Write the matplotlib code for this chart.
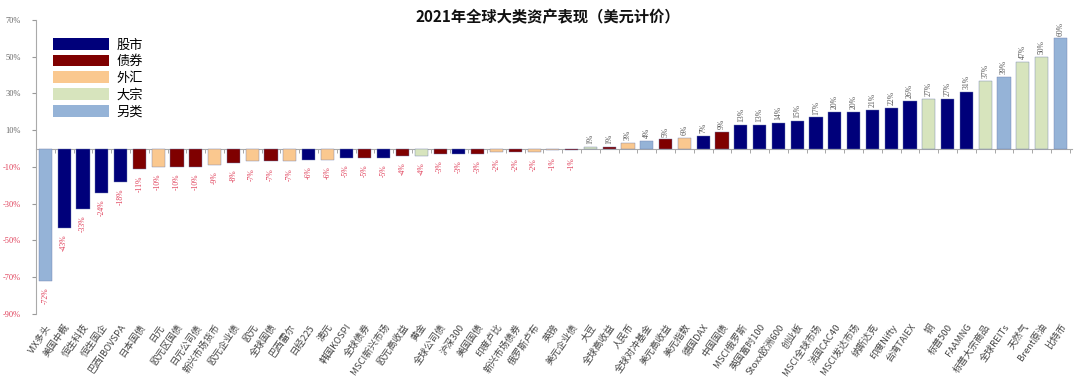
import matplotlib
matplotlib.use("Agg")
import matplotlib.pyplot as plt
from matplotlib.patches import Patch
from matplotlib.ticker import FuncFormatter

plt.rcParams['font.family'] = ['Noto Sans CJK SC', 'DejaVu Sans']

names = ["VIX多头", "美国中概", "恒生科技", "恒生国企", "巴西IBOVSPA", "日本国债", "日元",
         "欧元区国债", "日元公司债", "新兴市场货币", "欧元企业债", "欧元", "全球国债", "巴西雷尔",
         "日经225", "澳元", "韩国KOSPI", "全球债券", "MSCI新兴市场", "欧元高收益", "黄金",
         "全球公司债", "沪深300", "美国国债", "印度卢比", "新兴市场债券", "俄罗斯卢布", "英镑",
         "美元企业债", "大豆", "全球高收益", "人民币", "全球对冲基金", "美元高收益", "美元指数",
         "德国DAX", "中国国债", "MSCI俄罗斯", "英国富时100", "Stoxx欧洲600", "创业板",
         "MSCI全球市场", "法国CAC40", "MSCI发达市场", "纳斯达克", "印度Nifty", "台湾TAIEX",
         "铜", "标普500", "FAAMNG", "标普大宗商品", "全球REITs", "天然气", "Brent原油", "比特币"]

values = [-72, -43, -33, -24, -18, -11, -10, -10, -10, -9, -8, -7, -7, -7,
          -6, -6, -5, -5, -5, -4, -4, -3, -3, -3, -2, -2, -2, -1, -1,
          1, 1, 3, 4, 5, 6, 7, 9, 13, 13, 14, 15, 17, 20, 20, 21, 22, 26,
          27, 27, 31, 37, 39, 47, 50, 60]

kinds = ["另类", "股市", "股市", "股市", "股市", "债券", "外汇", "债券", "债券", "外汇", "债券",
         "外汇", "债券", "外汇", "股市", "外汇", "股市", "债券", "股市", "债券", "大宗", "债券",
         "股市", "债券", "外汇", "债券", "外汇", "外汇", "债券", "大宗", "债券", "外汇", "另类",
         "债券", "外汇", "股市", "债券", "股市", "股市", "股市", "股市", "股市", "股市", "股市",
         "股市", "股市", "股市", "大宗", "股市", "股市", "大宗", "另类", "大宗", "大宗", "另类"]

kind_order = ["股市", "债券", "外汇", "大宗", "另类"]
kind_colors = {"股市": "#00007A", "债券": "#7F0000", "外汇": "#FAC88F",
               "大宗": "#D7E4BD", "另类": "#95B3D7"}

fig = plt.figure(figsize=(10.8, 3.79), dpi=100)
ax = fig.add_axes([0.0333, 0.1715, 0.959, 0.776])

x = list(range(len(names)))
colors = [kind_colors[k] for k in kinds]
ax.bar(x, values, width=0.7, color=colors, edgecolor="#6f7fb0", linewidth=0.3, zorder=3)

serif = ["Liberation Serif", "DejaVu Serif"]
for xi, v in zip(x, values):
    if v >= 0:
        ax.text(xi, v + 1.5, f"{v}%", rotation=90, ha="center", va="bottom",
                fontsize=5.5, color="#555555", family=serif)
    else:
        ax.text(xi, v - 3.5, f"{v}%", rotation=90, ha="center", va="top",
                fontsize=5.5, color="#E0405A", family=serif)

ax.set_xlim(-0.5, 54.6)
ax.set_ylim(-90, 70)
ax.set_yticks(range(-90, 71, 20))
ax.yaxis.set_major_formatter(FuncFormatter(lambda v, p: f"{int(v)}%"))
for lab in ax.get_yticklabels():
    lab.set_family(serif)
    lab.set_fontsize(6)
    lab.set_color("#E0405A" if lab.get_position()[1] < 0 else "#666666")
ax.tick_params(axis="y", length=3, color="#999999", pad=8)

for s in ["top", "right"]:
    ax.spines[s].set_visible(False)
ax.spines["left"].set_color("#aaaaaa")
ax.spines["bottom"].set_position(("data", 0))
ax.spines["bottom"].set_color("#aaaaaa")
ax.set_xticks([])
ax.set_xticks([i + 0.5 for i in x], minor=True)
ax.tick_params(axis="x", which="minor", length=3, color="#999999", labelbottom=False)

sec = ax.secondary_xaxis("bottom")
sec.set_xticks(x)
sec.set_xticklabels(names, rotation=55, ha="right", rotation_mode="anchor",
                    fontsize=6.8, color="#444444")
sec.tick_params(length=0, pad=6)
sec.spines["bottom"].set_visible(False)

handles = [Patch(facecolor=kind_colors[k], edgecolor="none") for k in kind_order]
ax.legend(handles, kind_order, loc="upper left", bbox_to_anchor=(0.008, 0.97),
          frameon=False, fontsize=9.5, handlelength=4.2, handleheight=1.0,
          labelspacing=0.25, handletextpad=0.6, borderpad=0.2)

fig.text(0.507, 0.955, "2021年全球大类资产表现（美元计价）", ha="center", va="center",
         fontsize=11, fontweight="bold", color="#111111")

fig.savefig("out.png", dpi=100)
